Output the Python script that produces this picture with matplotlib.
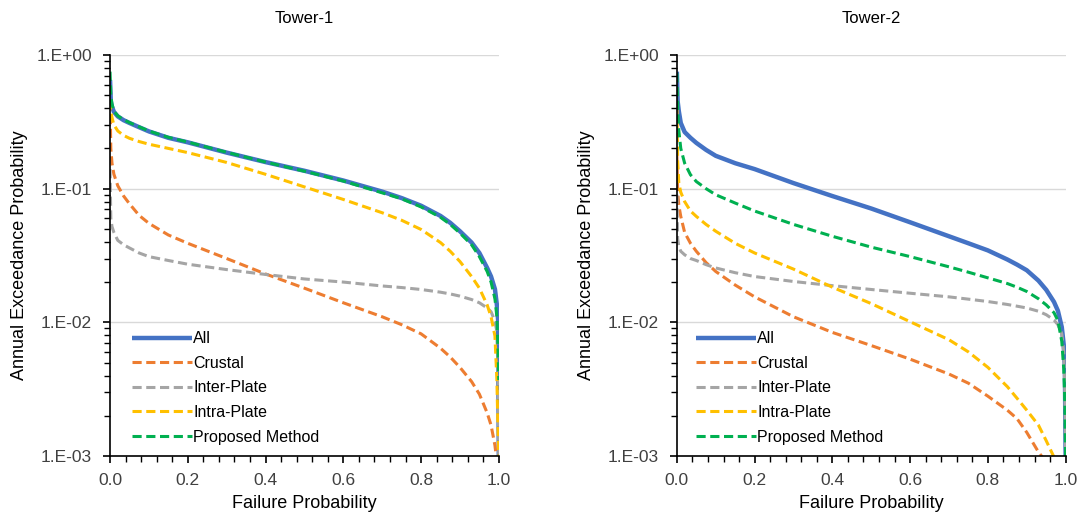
import matplotlib
matplotlib.use('Agg')
import matplotlib.pyplot as plt
from matplotlib.ticker import LogLocator, MultipleLocator, FixedFormatter, FixedLocator, NullFormatter

plt.rcParams['font.family'] = ['Liberation Sans', 'DejaVu Sans']

# failure probability points
x_pts = [0.0, 0.002, 0.005, 0.01, 0.02, 0.035, 0.05, 0.075, 0.1, 0.15, 0.2, 0.3, 0.4, 0.5,
         0.6, 0.7, 0.75, 0.8, 0.85, 0.875, 0.9, 0.93, 0.95, 0.97, 0.98, 0.99, 0.995, 0.998, 1.0]

# Tower-1 annual exceedance probabilities
t1_all = [0.65, 0.45, 0.41, 0.375, 0.347, 0.325, 0.31, 0.288, 0.268, 0.24, 0.222, 0.186, 0.158, 0.136,
          0.115, 0.095, 0.085, 0.0745, 0.0625, 0.0555, 0.048, 0.0395, 0.033, 0.0255, 0.022, 0.0177,
          0.0135, 0.0105, 0.0009]
t1_crustal = [0.45, 0.2, 0.155, 0.128, 0.105, 0.088, 0.077, 0.063, 0.055, 0.045, 0.039, 0.030, 0.023, 0.018,
              0.014, 0.011, 0.0096, 0.0082, 0.0064, 0.0055, 0.0046, 0.0036, 0.0029, 0.0021, 0.0017, 0.0012,
              0.0009, 0.0009, 0.0009]
t1_inter = [0.14, 0.06, 0.052, 0.047, 0.041, 0.038, 0.036, 0.033, 0.031, 0.029, 0.0272, 0.0248, 0.0228, 0.0211,
            0.02, 0.0187, 0.0182, 0.0176, 0.0168, 0.0163, 0.0157, 0.0148, 0.014, 0.0128, 0.012, 0.0102,
            0.0085, 0.004, 0.0009]
t1_intra = [0.46, 0.38, 0.34, 0.3, 0.27, 0.25, 0.238, 0.225, 0.215, 0.2, 0.186, 0.157, 0.128, 0.103,
            0.083, 0.066, 0.058, 0.0495, 0.0395, 0.034, 0.0285, 0.022, 0.018, 0.0135, 0.011, 0.0079,
            0.0037, 0.0015, 0.0009]
t1_proposed = [0.75, 0.5, 0.43, 0.38, 0.35, 0.328, 0.312, 0.29, 0.27, 0.242, 0.223, 0.187, 0.158, 0.135,
               0.114, 0.093, 0.084, 0.073, 0.061, 0.054, 0.0465, 0.038, 0.031, 0.024, 0.020, 0.015,
               0.011, 0.006, 0.0037]

# Tower-2 annual exceedance probabilities
t2_all = [0.75, 0.45, 0.38, 0.31, 0.265, 0.24, 0.22, 0.195, 0.176, 0.155, 0.14, 0.11, 0.088, 0.071,
          0.056, 0.044, 0.039, 0.0345, 0.0295, 0.027, 0.0245, 0.0205, 0.0175, 0.0142, 0.0122, 0.0092,
          0.0068, 0.0045, 0.0009]
t2_crustal = [0.18, 0.095, 0.075, 0.062, 0.047, 0.039, 0.034, 0.028, 0.024, 0.019, 0.0155, 0.011, 0.0084, 0.0067,
              0.0053, 0.0041, 0.0035, 0.0028, 0.0022, 0.0019, 0.0015, 0.00107, 0.0009, 0.0009, 0.0009, 0.0009,
              0.0009, 0.0009, 0.0009]
t2_inter = [0.09, 0.042, 0.037, 0.034, 0.032, 0.03, 0.029, 0.027, 0.0255, 0.0235, 0.022, 0.0202, 0.0188, 0.0176,
            0.0165, 0.0155, 0.0149, 0.0143, 0.0136, 0.0132, 0.0128, 0.0121, 0.0114, 0.0104, 0.0096, 0.0082,
            0.006, 0.003, 0.0009]
t2_intra = [0.42, 0.16, 0.11, 0.094, 0.08, 0.068, 0.062, 0.054, 0.048, 0.039, 0.033, 0.025, 0.0183, 0.0138,
            0.0101, 0.0074, 0.006, 0.0046, 0.0033, 0.0027, 0.0022, 0.0017, 0.0013, 0.00098, 0.0009, 0.0009,
            0.0009, 0.0009, 0.0009]
t2_proposed = [0.73, 0.4, 0.27, 0.2, 0.155, 0.127, 0.113, 0.1, 0.09, 0.078, 0.068, 0.054, 0.044, 0.0365,
               0.031, 0.026, 0.0237, 0.0215, 0.0195, 0.0183, 0.017, 0.015, 0.0135, 0.0118, 0.0103, 0.0072,
               0.0045, 0.0025, 0.0009]

labels = ['All', 'Crustal', 'Inter-Plate', 'Intra-Plate', 'Proposed Method']
colors = ['#4472C4', '#ED7D31', '#A5A5A5', '#FFC000', '#00B050']
titles = ['Tower-1', 'Tower-2']
towers = [[t1_all, t1_crustal, t1_inter, t1_intra, t1_proposed],
          [t2_all, t2_crustal, t2_inter, t2_intra, t2_proposed]]

y_ticks = [1e-3, 1e-2, 1e-1, 1e0]
y_ticklabels = ['1.E-03', '1.E-02', '1.E-01', '1.E+00']

fig = plt.figure(figsize=(10.83, 5.21), dpi=100)
lefts = [0.1016, 0.625]
leg_x = [0.04, 0.032]

for k in range(2):
    ax = fig.add_axes([lefts[k], 0.1248, 0.359, 0.7697])
    for i, series in enumerate(towers[k]):
        if i == 0:
            ax.plot(x_pts, series, color=colors[i], lw=3.2, label=labels[i],
                    solid_capstyle='butt', zorder=2)
        else:
            ax.plot(x_pts, series, color=colors[i], lw=2.2, label=labels[i],
                    dashes=(3, 1.5), zorder=3 if i == 4 else 2)

    ax.set_yscale('log')
    ax.set_ylim(1e-3, 1)
    ax.set_xlim(0, 1.0)
    ax.yaxis.set_major_locator(FixedLocator(y_ticks))
    ax.yaxis.set_major_formatter(FixedFormatter(y_ticklabels))
    ax.yaxis.set_minor_locator(LogLocator(base=10, subs=range(2, 10), numticks=20))
    ax.yaxis.set_minor_formatter(NullFormatter())
    ax.xaxis.set_major_locator(MultipleLocator(0.2))
    ax.xaxis.set_minor_locator(MultipleLocator(0.04))
    ax.xaxis.set_major_formatter(plt.FuncFormatter(lambda v, p: '%.1f' % v))

    ax.grid(axis='y', which='major', color='#D9D9D9', lw=1.0)
    ax.set_axisbelow(True)
    for s in ['top', 'right']:
        ax.spines[s].set_visible(False)
    for s in ['left', 'bottom']:
        ax.spines[s].set_linewidth(1.2)
        ax.spines[s].set_zorder(5)
    ax.tick_params(which='major', length=5, width=1.2, labelsize=12.5, colors='black',
                   labelcolor='#404040')
    ax.tick_params(which='minor', length=4, width=1.0)
    ax.tick_params(axis='x', which='major', pad=7)
    ax.tick_params(axis='y', which='major', pad=8)

    ax.set_title(titles[k], fontsize=12, pad=23)
    ax.set_xlabel('Failure Probability', fontsize=13, labelpad=5)
    ax.set_ylabel('Annual Exceedance Probability', fontsize=13, labelpad=6)

    ax.legend(loc='upper left', bbox_to_anchor=(leg_x[k], 0.327),
              frameon=False, fontsize=11.5, handlelength=3.75, handletextpad=0.1,
              labelspacing=0.6, borderaxespad=0)

plt.savefig('out.png', dpi=100)
